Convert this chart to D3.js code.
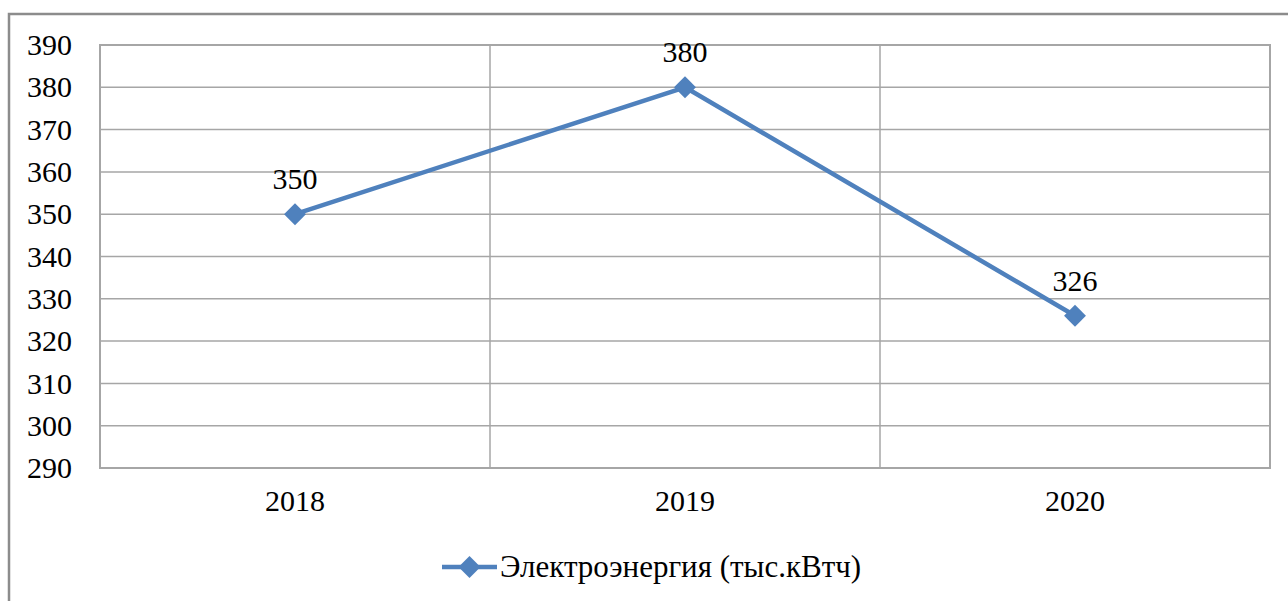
<!DOCTYPE html>
<html>
<head>
<meta charset="utf-8">
<script src="https://d3js.org/d3.v7.min.js"></script>
</head>
<body style="margin:0">
<script>
// data
var years = ["2018", "2019", "2020"];
var values = [350, 380, 326];
var yTicks = [290, 300, 310, 320, 330, 340, 350, 360, 370, 380, 390];
var seriesName = "Электроэнергия (тыс.кВтч)";

var width = 1288,
    height = 601,
    plotLeft = 100,
    plotRight = 1270,
    plotTop = 45,
    plotBottom = 468,
    blue = "#4f81bd",
    grid = "#a6a6a6";

var svg = d3.select("body").append("svg")
    .attr("width", width)
    .attr("height", height);

// outer frame of the chart (runs off the right and bottom edges)
svg.append("rect")
    .attr("x", 9).attr("y", 14)
    .attr("width", width + 20).attr("height", height + 20)
    .attr("fill", "none")
    .attr("stroke", "#8c8c8c")
    .attr("stroke-width", 2.5);

var x = d3.scaleBand().domain(years).range([plotLeft, plotRight]);
var y = d3.scaleLinear().domain([290, 390]).range([plotBottom, plotTop]);

// horizontal grid
svg.append("g").selectAll("line")
    .data(yTicks)
    .enter().append("line")
    .attr("x1", plotLeft).attr("x2", plotRight)
    .attr("y1", function (d) { return y(d); })
    .attr("y2", function (d) { return y(d); })
    .attr("stroke", grid).attr("stroke-width", 1.5);

// vertical grid at category boundaries
svg.append("g").selectAll("line")
    .data(years.slice(1))
    .enter().append("line")
    .attr("x1", function (d) { return x(d); })
    .attr("x2", function (d) { return x(d); })
    .attr("y1", plotTop).attr("y2", plotBottom)
    .attr("stroke", grid).attr("stroke-width", 1.5);

// plot border
svg.append("rect")
    .attr("x", plotLeft).attr("y", plotTop)
    .attr("width", plotRight - plotLeft).attr("height", plotBottom - plotTop)
    .attr("fill", "none")
    .attr("stroke", grid).attr("stroke-width", 2);

function serif(sel, size) {
    sel.attr("fill", "#000")
        .style("font-family", "'Times New Roman'")
        .style("font-size", size + "px");
}

// y axis labels
var gy = svg.append("g")
    .attr("transform", "translate(" + plotLeft + ",0)")
    .call(d3.axisLeft(y).tickValues(yTicks).tickSize(0).tickPadding(28));
gy.select(".domain").remove();
gy.selectAll("text").call(serif, 30);

// x axis labels
var gx = svg.append("g")
    .attr("transform", "translate(0," + plotBottom + ")")
    .call(d3.axisBottom(x).tickSize(0).tickPadding(22));
gx.select(".domain").remove();
gx.selectAll("text").call(serif, 30);

var cx = function (d, i) { return x(years[i]) + x.bandwidth() / 2; };

// series line
var line = d3.line()
    .x(function (d, i) { return cx(d, i); })
    .y(function (d) { return y(d); });

svg.append("path")
    .datum(values)
    .attr("d", line)
    .attr("fill", "none")
    .attr("stroke", blue)
    .attr("stroke-width", 4.5)
    .attr("stroke-linejoin", "round");

var diamond = d3.symbol().type(d3.symbolSquare).size(240);

svg.append("g").selectAll("path")
    .data(values)
    .enter().append("path")
    .attr("d", diamond)
    .attr("transform", function (d, i) {
        return "translate(" + cx(d, i) + "," + y(d) + ") rotate(45)";
    })
    .attr("fill", blue);

// data labels
svg.append("g").selectAll("text")
    .data(values)
    .enter().append("text")
    .attr("x", function (d, i) { return cx(d, i); })
    .attr("y", function (d) { return y(d) - 25; })
    .attr("text-anchor", "middle")
    .call(serif, 30)
    .text(function (d) { return d; });

// legend
var lg = svg.append("g").attr("transform", "translate(442,567)");
lg.append("line")
    .attr("x1", 0).attr("x2", 55)
    .attr("y1", 0).attr("y2", 0)
    .attr("stroke", blue).attr("stroke-width", 4.5);
lg.append("path")
    .attr("d", diamond)
    .attr("transform", "translate(27.5,0) rotate(45)")
    .attr("fill", blue);
lg.append("text")
    .attr("x", 58).attr("y", 10)
    .call(serif, 31)
    .text(seriesName);
</script>
</body>
</html>
